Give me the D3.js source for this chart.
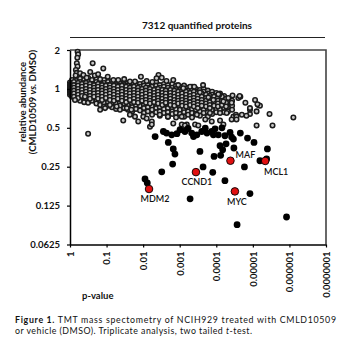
<!DOCTYPE html>
<html><head><meta charset="utf-8">
<script src="https://cdn.jsdelivr.net/npm/d3@7"></script>
<style>
html,body{margin:0;padding:0;background:#fff;}
svg{display:block;font-family:Lato,"Open Sans",sans-serif;}
</style></head>
<body>
<svg id="chart" width="350" height="350"></svg>
<script>
// ---------- data ----------
const titleText = "7312 quantified proteins";
const yTickValues = [2, 1, 0.5, 0.25, 0.125, 0.0625];
const yTickLabels = ["2", "1", "0.5", "0.25", "0.125", "0.0625"];
const xTickValues = [1, 1e-1, 1e-2, 1e-3, 1e-4, 1e-5, 1e-6, 1e-7];
const xTickLabels = ["1", "0.1", "0.01", "0.001", "0.0001", "0.00001", "0.000001", "0.0000001"];

// cloud of non-significant proteins, read column by column (p-value, abundances)
const greyColumnP = [1, 0.95, 0.88, 0.69, 0.53, 0.41, 0.32, 0.25, 0.19, 0.15, 0.117, 0.091, 0.071, 0.055,
  0.043, 0.033, 0.026, 0.020, 0.0157, 0.0122, 0.0095, 0.0074, 0.0057, 0.0044, 0.0035, 0.0027, 0.0021,
  0.0016, 0.00126, 0.00098, 0.00076, 0.00059, 0.00046, 0.00036, 0.00028, 0.00022, 0.00017, 0.00013,
  0.0001, 7.9e-5, 6.1e-5, 4.8e-5, 3.7e-5];
const greyColumnV = [
  [1.12, 1.07, 1.03, 1.0, 0.97, 0.94, 0.9],
  [1.09, 1.05, 1.01, 0.98, 0.95, 0.92],
  [1.17, 1.11, 1.07, 1.04, 1.0, 0.97, 0.93, 0.9, 0.87],
  [1.22, 1.15, 1.09, 1.06, 1.02, 0.98, 0.95, 0.92, 0.88, 0.84],
  [1.2, 1.13, 1.07, 1.04, 1.0, 0.97, 0.93, 0.9, 0.85, 0.81],
  [1.17, 1.11, 1.06, 1.02, 0.98, 0.95, 0.92, 0.88, 0.84, 0.79],
  [1.22, 1.13, 1.07, 1.04, 1.0, 0.97, 0.93, 0.9, 0.87, 0.82, 0.78],
  [1.17, 1.09, 1.06, 1.02, 0.98, 0.95, 0.92, 0.88, 0.85, 0.81],
  [1.2, 1.13, 1.07, 1.04, 1.0, 0.97, 0.93, 0.9, 0.87, 0.82, 0.77],
  [1.15, 1.09, 1.06, 1.02, 0.98, 0.95, 0.92, 0.88, 0.85, 0.81, 0.75],
  [1.17, 1.11, 1.06, 1.02, 0.98, 0.95, 0.92, 0.88, 0.85, 0.82, 0.78, 0.73],
  [1.13, 1.07, 1.04, 1.0, 0.97, 0.93, 0.9, 0.87, 0.84, 0.79, 0.74],
  [1.15, 1.09, 1.04, 1.0, 0.97, 0.93, 0.9, 0.87, 0.82, 0.78, 0.72],
  [1.13, 1.07, 1.02, 0.98, 0.95, 0.92, 0.88, 0.85, 0.81, 0.77, 0.7],
  [1.11, 1.06, 1.02, 0.98, 0.95, 0.92, 0.88, 0.85, 0.82, 0.78, 0.74, 0.69],
  [1.13, 1.07, 1.02, 0.98, 0.95, 0.92, 0.88, 0.85, 0.81, 0.77, 0.71],
  [1.11, 1.06, 1.0, 0.97, 0.93, 0.9, 0.87, 0.84, 0.79, 0.75, 0.69],
  [1.09, 1.04, 1.0, 0.97, 0.93, 0.9, 0.87, 0.84, 0.81, 0.77, 0.72, 0.67],
  [1.11, 1.06, 1.0, 0.97, 0.93, 0.9, 0.87, 0.84, 0.79, 0.75, 0.7],
  [1.09, 1.04, 0.98, 0.95, 0.92, 0.88, 0.85, 0.82, 0.78, 0.74, 0.68],
  [1.11, 1.06, 1.0, 0.95, 0.92, 0.88, 0.85, 0.82, 0.79, 0.75, 0.71, 0.65],
  [1.07, 1.02, 0.97, 0.93, 0.9, 0.87, 0.84, 0.81, 0.77, 0.72, 0.67],
  [1.09, 1.04, 0.98, 0.93, 0.9, 0.87, 0.84, 0.81, 0.78, 0.74, 0.69, 0.63],
  [1.13, 1.06, 1.0, 0.95, 0.92, 0.88, 0.85, 0.82, 0.79, 0.75, 0.71, 0.66],
  [1.07, 1.02, 0.97, 0.92, 0.88, 0.85, 0.82, 0.79, 0.77, 0.72, 0.67, 0.62],
  [1.09, 1.04, 0.98, 0.93, 0.9, 0.87, 0.84, 0.81, 0.78, 0.74, 0.7, 0.65],
  [1.07, 1.02, 0.97, 0.92, 0.88, 0.85, 0.82, 0.79, 0.75, 0.71, 0.66, 0.61],
  [1.09, 1.02, 0.97, 0.92, 0.87, 0.84, 0.81, 0.78, 0.75, 0.71, 0.67, 0.64],
  [1.06, 1.0, 0.95, 0.9, 0.87, 0.84, 0.81, 0.78, 0.74, 0.7, 0.65, 0.6],
  [1.04, 0.98, 0.93, 0.88, 0.85, 0.82, 0.79, 0.77, 0.72, 0.69, 0.64],
  [1.06, 1.0, 0.95, 0.9, 0.85, 0.82, 0.79, 0.77, 0.74, 0.7, 0.66, 0.61],
  [1.02, 0.97, 0.92, 0.87, 0.84, 0.81, 0.78, 0.75, 0.71, 0.67, 0.63],
  [1.04, 0.98, 0.93, 0.88, 0.84, 0.81, 0.78, 0.74, 0.7, 0.65, 0.6],
  [1.0, 0.95, 0.9, 0.85, 0.82, 0.79, 0.77, 0.72, 0.69, 0.64],
  [0.98, 0.93, 0.88, 0.84, 0.81, 0.78, 0.75, 0.71, 0.67, 0.62],
  [1.0, 0.95, 0.9, 0.85, 0.81, 0.77, 0.72, 0.69, 0.65],
  [0.97, 0.92, 0.87, 0.82, 0.78, 0.74, 0.7, 0.66, 0.61],
  [0.95, 0.9, 0.85, 0.81, 0.77, 0.72, 0.69, 0.64],
  [0.93, 0.88, 0.82, 0.78, 0.74, 0.7, 0.66],
  [0.92, 0.85, 0.79, 0.74, 0.69],
  [0.88, 0.82, 0.77, 0.71, 0.66],
  [0.84, 0.78, 0.72, 0.67],
  [0.81, 0.74, 0.69]
];
// the darkest, most crowded middle of the cloud (p-value, abundances)
const greyCoreP = [0.78, 0.60, 0.47, 0.365, 0.284, 0.22, 0.171, 0.133, 0.104, 0.081, 0.063, 0.049, 0.038,
  0.029, 0.023, 0.0178, 0.0138, 0.0107, 0.0084, 0.0065, 0.005, 0.0039, 0.003, 0.0024, 0.0018, 0.0014,
  0.0011, 0.00086, 0.00067, 0.00052, 0.00041, 0.00032, 0.00025, 0.00019, 0.00015, 0.000115, 9e-5, 7e-5, 5.4e-5];
const greyCoreV = [
  [1.13, 1.07, 1.02, 0.97, 0.92, 0.87], [1.11, 1.06, 1.0, 0.95, 0.9, 0.85], [1.09, 1.04, 0.98, 0.93, 0.88],
  [1.11, 1.06, 1.0, 0.95, 0.9, 0.85], [1.09, 1.04, 0.98, 0.93, 0.88, 0.84], [1.07, 1.02, 0.97, 0.92, 0.87],
  [1.09, 1.04, 0.98, 0.93, 0.88, 0.84], [1.07, 1.02, 0.97, 0.92, 0.87, 0.82], [1.06, 1.0, 0.95, 0.9, 0.85],
  [1.07, 1.02, 0.97, 0.92, 0.87, 0.82], [1.06, 1.0, 0.95, 0.9, 0.85, 0.81], [1.04, 0.98, 0.93, 0.88, 0.84],
  [1.06, 1.0, 0.95, 0.9, 0.85, 0.81], [1.04, 0.98, 0.93, 0.88, 0.84, 0.79], [1.02, 0.97, 0.92, 0.87, 0.82],
  [1.04, 0.98, 0.93, 0.88, 0.84, 0.79], [1.02, 0.97, 0.92, 0.87, 0.82, 0.78], [1.0, 0.95, 0.9, 0.85, 0.81],
  [1.02, 0.97, 0.92, 0.87, 0.82, 0.78], [1.0, 0.95, 0.9, 0.85, 0.81, 0.77], [0.98, 0.93, 0.88, 0.84, 0.79],
  [1.0, 0.95, 0.9, 0.85, 0.81, 0.77], [0.98, 0.93, 0.88, 0.84, 0.79, 0.75], [0.97, 0.92, 0.87, 0.82, 0.78],
  [0.98, 0.93, 0.88, 0.84, 0.79, 0.75], [0.97, 0.92, 0.87, 0.82, 0.78, 0.74], [0.95, 0.9, 0.85, 0.81, 0.77],
  [0.97, 0.92, 0.87, 0.82, 0.78, 0.74], [0.95, 0.9, 0.85, 0.81, 0.77, 0.73], [0.93, 0.88, 0.84, 0.79, 0.75],
  [0.95, 0.9, 0.85, 0.81, 0.77, 0.73], [0.93, 0.88, 0.84, 0.79, 0.75, 0.71], [0.92, 0.87, 0.82, 0.78, 0.74],
  [0.9, 0.85, 0.81, 0.77, 0.73], [0.88, 0.84, 0.79, 0.75, 0.71], [0.87, 0.82, 0.78, 0.74],
  [0.85, 0.81, 0.77, 0.73], [0.87, 0.81, 0.75], [0.84, 0.78, 0.73]
];
// individually read grey points at the edges of the cloud: [p-value, abundance]
const greyOutliers = [
  [0.62, 1.94], [0.6, 1.85], [0.63, 1.74], [0.65, 1.58], [0.62, 1.49], [0.69, 1.4], [0.66, 1.33], [0.7, 1.27],
  [0.24, 1.58], [0.123, 1.44], [0.53, 1.32], [0.43, 1.28], [0.35, 1.22], [0.28, 1.35], [0.21, 1.27], [0.17, 1.3],
  [0.15, 1.19], [0.093, 1.24], [0.065, 1.17], [0.048, 1.17], [0.033, 1.19], [0.023, 1.14], [0.0167, 1.14],
  [0.0115, 1.24], [0.008, 1.15], [0.0056, 1.13], [0.0038, 1.28], [0.0031, 1.22], [0.0023, 1.15], [0.0015, 1.17],
  [0.0043, 1.21], [0.0011, 1.07], [0.00052, 1.04], [0.0004, 1.04], [0.00023, 1.07], [0.0008, 1.01],
  [0.00028, 0.94], [0.000165, 0.86], [8.3e-5, 0.9], [4.7e-5, 0.85], [3.6e-5, 0.89], [2.5e-5, 0.85],
  [0.00012, 0.82], [6.4e-5, 0.8], [3.8e-5, 0.78], [8.8e-5, 0.91],
  [0.73, 0.82], [0.39, 0.87], [0.15, 0.69], [0.11, 0.71], [0.081, 0.75], [0.053, 0.73], [0.035, 0.57],
  [0.028, 0.71], [0.023, 0.63], [0.0167, 0.61], [0.0136, 0.56], [0.0099, 0.61], [0.008, 0.59], [0.0065, 0.51],
  [0.0058, 0.56], [0.021, 0.69], [0.32, 0.45], [0.0035, 0.63], [0.0021, 0.61], [0.0015, 0.54], [0.0008, 0.51],
  [0.00064, 0.53], [0.00038, 0.53], [0.0002, 0.58], [0.000133, 0.56], [7.9e-5, 0.65], [5.2e-5, 0.65],
  [3.4e-5, 0.61], [0.000149, 0.65], [0.00034, 0.63], [0.00088, 0.61], [0.0058, 0.53], [0.00088, 0.53],
  [0.00031, 0.52], [0.00072, 0.52], [6.4e-5, 0.53], [7.9e-5, 0.57], [3.8e-5, 0.58], [2.9e-5, 0.63],
  [2.2e-5, 0.87], [1.6e-5, 0.78], [1.2e-5, 0.64], [8.7e-6, 0.82], [7.1e-6, 0.75], [6.4e-6, 0.74],
  [7.9e-6, 0.67], [1.5e-5, 0.62], [2e-5, 0.63], [2.8e-5, 0.61], [3.5e-6, 0.64], [2.9e-6, 0.52],
  [7.9e-6, 0.52], [7.8e-7, 0.6], [2.8e-5, 0.58], [1.2e-5, 0.69], [2.3e-5, 0.88], [7.5e-6, 0.76], [1.2e-5, 0.71]
];
// significantly decreased proteins (black): [p-value, abundance]
const decreasedProteins = [
  [0.0047, 0.428], [0.0028, 0.468], [0.0023, 0.455], [0.00166, 0.441], [0.00205, 0.385], [0.0015, 0.343],
  [0.00135, 0.313], [0.00156, 0.262], [0.0031, 0.228], [0.0089, 0.201], [0.0077, 0.187], [0.00072, 0.468],
  [0.00047, 0.455], [0.00034, 0.441], [0.00025, 0.468], [0.00018, 0.455], [0.000133, 0.468], [8.8e-5, 0.441],
  [5.8e-5, 0.434], [4.2e-5, 0.46], [0.00028, 0.328], [0.00023, 0.249], [0.000125, 0.226], [0.000115, 0.3],
  [6.7e-5, 0.338], [5.4e-5, 0.376], [3.3e-5, 0.349], [2.2e-5, 0.455], [1.4e-5, 0.416], [9.3e-6, 0.385],
  [4.0e-6, 0.343], [6.4e-6, 0.278], [4.2e-6, 0.287], [1.7e-5, 0.249], [5.8e-5, 0.195], [1.2e-5, 0.155],
  [0.00052, 0.141], [1.2e-6, 0.102], [2.7e-5, 0.089], [3.8e-5, 0.424], [0.00098, 0.483], [0.00059, 0.494],
  [0.0002, 0.497], [0.000108, 0.491], [7e-5, 0.5], [0.00119, 0.45], [0.00042, 0.428], [0.00012, 0.441],
  [7.6e-5, 0.306], [7.9e-5, 0.363], [3.4e-5, 0.409]
];
// highlighted proteins (red)
const highlightNames = ["MDM2", "CCND1", "MAF", "MCL1", "MYC"];
const highlightP = [0.0069, 3.6e-4, 4.1e-5, 4.6e-6, 3.1e-5];
const highlightV = [0.168, 0.227, 0.278, 0.277, 0.161];

// ---------- drawing ----------
const svg = d3.select("#chart");
const L = 70, R = 326, T = 50, B = 244.5;
const x = d3.scaleLog().domain([1, 1e-7]).range([L, R]);
const y = d3.scaleLog().base(2).domain([0.0625, 2]).range([B, T]);

// title + rule
svg.append("text").attr("x", 197).attr("y", 29).attr("text-anchor", "middle")
  .attr("font-size", 10).attr("font-weight", "bold").attr("fill", "#111").text(titleText);
svg.append("line").attr("x1", 70).attr("x2", 325).attr("y1", 37.5).attr("y2", 37.5)
  .attr("stroke", "#222").attr("stroke-width", 1);

// frame top/right
svg.append("path").attr("d", `M${L},${T}H${R}V${B}`).attr("fill", "none")
  .attr("stroke", "#444").attr("stroke-width", 1.6);

// grey points
const greyPts = [];
greyColumnP.forEach((p, i) => greyColumnV[i].forEach(v => greyPts.push([p, v])));
greyCoreP.forEach((p, i) => greyCoreV[i].forEach(v => greyPts.push([p, v])));
greyOutliers.forEach(d => greyPts.push(d));
svg.append("g").selectAll("circle").data(greyPts).join("circle")
  .attr("cx", d => x(d[0])).attr("cy", d => y(d[1])).attr("r", 2.25)
  .attr("fill", "#c8c8c8").attr("stroke", "#1a1a1a").attr("stroke-width", 1.55);

// black points
svg.append("g").selectAll("circle").data(decreasedProteins).join("circle")
  .attr("cx", d => x(d[0])).attr("cy", d => y(d[1])).attr("r", 3.4).attr("fill", "#000");

// axes
const yAxis = d3.axisLeft(y).tickValues(yTickValues)
  .tickFormat((d, i) => yTickLabels[i]).tickSize(3).tickSizeOuter(0);
const gy = svg.append("g").attr("transform", `translate(${L},0)`).call(yAxis);
gy.select(".domain").attr("stroke", "#000").attr("stroke-width", 1.5);
gy.selectAll(".tick line").attr("stroke", "#000").attr("stroke-width", 1.2);
gy.selectAll("text").attr("x", -10).attr("font-size", 9.5).attr("font-weight", "bold")
  .attr("font-family", "Lato, sans-serif").attr("fill", "#111");

const xAxis = d3.axisBottom(x).tickValues(xTickValues)
  .tickFormat((d, i) => xTickLabels[i]).tickSize(3).tickSizeOuter(0);
const gx = svg.append("g").attr("transform", `translate(0,${B})`).call(xAxis);
gx.select(".domain").attr("stroke", "#000").attr("stroke-width", 1.5);
gx.selectAll(".tick line").attr("stroke", "#000").attr("stroke-width", 1.2);
gx.selectAll("text").attr("transform", "rotate(-90)").attr("x", -7).attr("y", 0)
  .attr("dy", "0.35em").attr("text-anchor", "end").attr("font-size", 9.5).attr("font-weight", "bold")
  .attr("font-family", "Lato, sans-serif").attr("fill", "#111");

// red highlighted points
svg.append("g").selectAll("circle").data(highlightNames).join("circle")
  .attr("cx", (d, i) => x(highlightP[i])).attr("cy", (d, i) => y(highlightV[i])).attr("r", 3.8)
  .attr("fill", "#e01010").attr("stroke", "#000").attr("stroke-width", 0.9);
const labelOffset = {MDM2: [6, 10], CCND1: [1, 10], MAF: [15, -6], MCL1: [11, 10.5], MYC: [2, 10]};
svg.append("g").selectAll("text").data(highlightNames).join("text")
  .attr("x", (d, i) => x(highlightP[i]) + labelOffset[d][0])
  .attr("y", (d, i) => y(highlightV[i]) + labelOffset[d][1])
  .attr("dy", "0.35em").attr("text-anchor", "middle").attr("font-size", 9).attr("font-weight", 600)
  .attr("fill", "#111").text(d => d);

// axis titles
const yt = svg.append("text").attr("transform", "translate(26,102) rotate(-90)")
  .attr("text-anchor", "middle").attr("font-size", 9.5).attr("font-weight", "bold").attr("fill", "#111");
yt.append("tspan").attr("x", 0).attr("y", 0).text("relative abundance");
const yt2 = svg.append("text").attr("transform", "translate(36,102) rotate(-90)")
  .attr("text-anchor", "middle").attr("font-size", 9.5).attr("font-weight", "bold").attr("fill", "#111");
yt2.append("tspan").text("(CMLD10509 ");
yt2.append("tspan").attr("font-style", "italic").text("vs.");
yt2.append("tspan").text(" DMSO)");

svg.append("text").attr("x", 82).attr("y", 298.5).attr("font-size", 9.5).attr("font-weight", "bold")
  .attr("fill", "#111").text("p-value");

// caption
const c1 = svg.append("text").attr("x", 15).attr("y", 322.5).attr("font-size", 8.8).attr("fill", "#111")
  .attr("textLength", 321).attr("lengthAdjust", "spacing");
c1.append("tspan").attr("font-weight", "bold").text("Figure 1.");
c1.append("tspan").text(" TMT mass spectometry of NCIH929 treated with CMLD10509");
const c2 = svg.append("text").attr("x", 15).attr("y", 333.5).attr("font-size", 8.8).attr("fill", "#111")
  .attr("textLength", 237).attr("lengthAdjust", "spacing");
c2.append("tspan").text("or vehicle (DMSO). Triplicate analysis, two tailed ");
c2.append("tspan").attr("font-style", "italic").text("t");
c2.append("tspan").text("-test.");
</script>
</body></html>
